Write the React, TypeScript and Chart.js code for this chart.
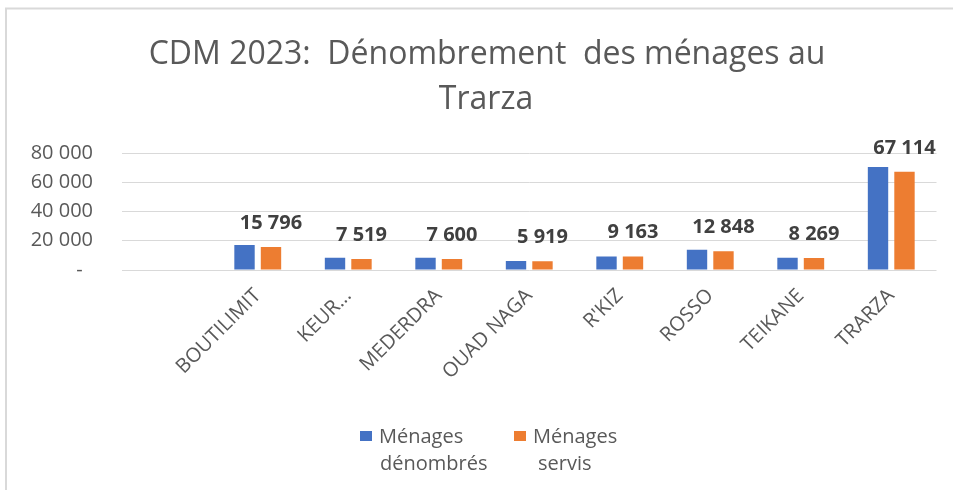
import React, { useEffect, useRef } from "react";
import { Chart, registerables } from "chart.js";

Chart.register(...registerables);

const categories = ["", "BOUTILIMIT", "KEUR...", "MEDERDRA", "OUAD NAGA", "R'KIZ", "ROSSO", "TEIKANE", "TRARZA"];
const menagesDenombres = [null, 17100, 8400, 8400, 6100, 9300, 13900, 8400, 70500];
const menagesServis = [null, 15796, 7519, 7600, 5919, 9163, 12848, 8269, 67114];
const yTickLabels = ["-  ", "20 000", "40 000", "60 000", "80 000"];
const seriesNames = [["Ménages", "dénombrés"], ["Ménages", "servis"]];
const titleLines = ["CDM 2023:  Dénombrement  des ménages au", "Trarza"];

const BLUE = "#4472C4";
const ORANGE = "#ED7D31";
const GRAY = "#595959";
const FONT = "'Open Sans', 'DejaVu Sans', sans-serif";

function fmt(v: number): string {
  return String(v).replace(/\B(?=(\d{3})+(?!\d))/g, " ");
}

const decorPlugin = {
  id: "decor",
  afterDraw(chart: any) {
    const ctx = chart.ctx;
    ctx.save();
    // frame
    ctx.strokeStyle = "#d9d9d9";
    ctx.lineWidth = 2;
    ctx.beginPath();
    ctx.moveTo(6, 490);
    ctx.lineTo(6, 8.5);
    ctx.lineTo(953, 8.5);
    ctx.stroke();
    // title
    ctx.fillStyle = GRAY;
    ctx.font = `32px ${FONT}`;
    ctx.textAlign = "center";
    ctx.textBaseline = "middle";
    ctx.fillText(titleLines[0], 487, 55);
    ctx.fillText(titleLines[1], 486, 100);
    // legend
    const colors = [BLUE, ORANGE];
    const boxX = [360, 514];
    const textX = [[379, 380], [533, 538]];
    ctx.font = `20px ${FONT}`;
    ctx.textAlign = "left";
    for (let i = 0; i < 2; i++) {
      ctx.fillStyle = colors[i];
      ctx.fillRect(boxX[i], 431, 12, 10);
      ctx.fillStyle = GRAY;
      ctx.fillText(seriesNames[i][0], textX[i][0], 437);
      ctx.fillText(seriesNames[i][1], textX[i][1], 464);
    }
    ctx.restore();
  },
};

const valueLabelPlugin = {
  id: "valueLabels",
  afterDatasetsDraw(chart: any) {
    const ctx = chart.ctx;
    const meta = chart.getDatasetMeta(1);
    const data = chart.data.datasets[1].data;
    ctx.save();
    ctx.fillStyle = "#404040";
    ctx.font = `bold 20px ${FONT}`;
    ctx.textAlign = "center";
    ctx.textBaseline = "middle";
    meta.data.forEach((el: any, i: number) => {
      const v = data[i];
      if (v == null) return;
      ctx.fillText(fmt(v), el.x, el.y - 24);
    });
    ctx.restore();
  },
};

export default function App() {
  const ref = useRef<HTMLCanvasElement | null>(null);
  useEffect(() => {
    if (!ref.current) return;
    const chart = new Chart(ref.current, {
      type: "bar",
      data: {
        labels: categories,
        datasets: [
          { label: seriesNames[0].join(" "), data: menagesDenombres, backgroundColor: BLUE },
          { label: seriesNames[1].join(" "), data: menagesServis, backgroundColor: ORANGE },
        ],
      },
      options: {
        responsive: false,
        animation: false,
        events: [],
        categoryPercentage: 0.585,
        barPercentage: 0.77,
        layout: { padding: { left: 0, right: 16.5, top: 153, bottom: 0 } },
        plugins: { legend: { display: false }, title: { display: false }, tooltip: { enabled: false } },
        scales: {
          x: {
            grid: { display: false, drawTicks: false },
            border: { display: false },
            ticks: {
              color: GRAY,
              font: { family: FONT, size: 20 },
              minRotation: 45,
              maxRotation: 45,
              autoSkip: false,
              padding: 14,
            },
            afterFit: (s: any) => {
              s.height = 220;
            },
          },
          y: {
            min: 0,
            max: 80000,
            grid: { color: "#d9d9d9", lineWidth: 1, drawTicks: false },
            border: { display: false },
            ticks: {
              stepSize: 20000,
              color: GRAY,
              font: { family: FONT, size: 20 },
              padding: 29,
              callback: (_v: any, i: number) => yTickLabels[i],
            },
            afterFit: (s: any) => {
              s.width = 122;
            },
          },
        },
      },
      plugins: [valueLabelPlugin, decorPlugin],
    });
    return () => chart.destroy();
  }, []);
  return (
    <div style={{ position: "absolute", left: 0, top: 0, width: 953, height: 490, background: "#fff" }}>
      <canvas ref={ref} width={953} height={490} />
    </div>
  );
}
